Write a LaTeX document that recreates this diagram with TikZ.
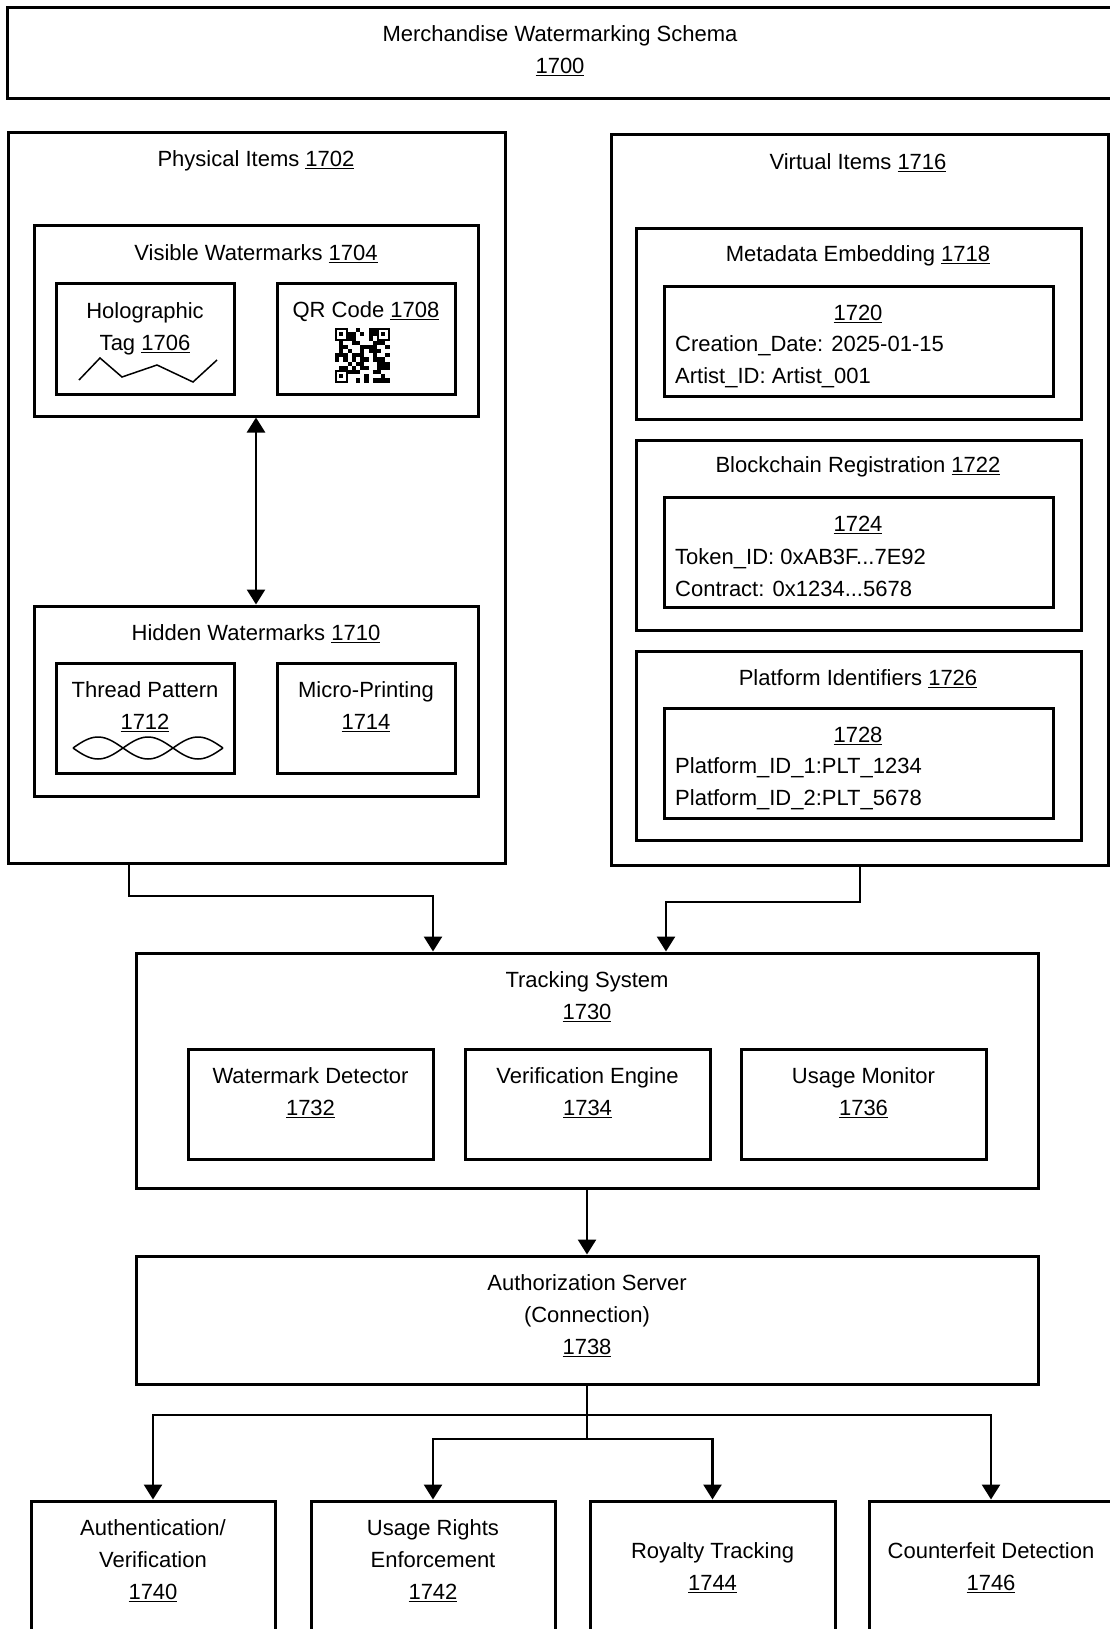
\documentclass[tikz,border=0pt]{standalone}
\usepackage{fontspec}
\setmainfont{Liberation Sans}
\usetikzlibrary{arrows.meta}
\newcommand{\refnum}[1]{\underline{#1}}

\begin{document}
\begin{tikzpicture}[x=1pt,y=-1pt,
  box/.style={draw, line width=3pt, inner sep=0pt},
  txt/.style={inner sep=0pt, align=center, yshift=-2pt, font=\fontsize{22}{32}\selectfont},
  arr/.style={line width=2.7pt, -{Triangle[length=15pt,width=18pt]}}]
%%%%%%%%%%%%%%%%%%%%%%%%%%%%%%%%%%%%%%%%%%% HELP LINES
%\draw[help lines] (0,0) grid[step=100] (1110,1629);
\useasboundingbox (0,0) rectangle (1110,1629);

%%%%%%%%%%%%%%%%%%%%%%%%%%%%%%%%%%%%%%%%%%% schema
\node[box, minimum width=1106pt, minimum height=91pt](schema) at (560,53.5){};
\node[txt](schematxt) at (560,49){Merchandise Watermarking Schema\\\refnum{1700}};

%%%%% physical items
\node[box, minimum width=497pt, minimum height=730pt](phys) at (256.5,498){};
\node[txt](phystxt) at (256,159){Physical Items \refnum{1702}};

\node[box, minimum width=444pt, minimum height=190pt](visible) at (256,321){};
\node[txt](visibletxt) at (256,252){Visible Watermarks \refnum{1704}};
\node[box, minimum width=178pt, minimum height=111pt](holo) at (145,338.5){};
\node[txt](holotxt) at (145,326.5){Holographic\\Tag \refnum{1706}};
\draw[line width=1.5pt] (79,380) -- (100,358) -- (122,377) -- (157,365) -- (193,382) -- (217,360);
\node[box, minimum width=178pt, minimum height=111pt](qr) at (366,338.5){};
\node[txt](qrtxt) at (366,310){QR Code \refnum{1708}};
\pgfmathsetseed{1708}
\foreach \i in {0,...,12}{
  \foreach \j in {0,...,12}{
    \pgfmathtruncatemacro\on{rnd<0.5?1:0}
    \ifnum\on=1 \fill (335+\i*4.2,328+\j*4.2) rectangle ++(4.2,4.2);\fi
  }
}
\foreach \fx/\fy in {335/328, 377/328, 335/370}{
  \fill (\fx,\fy) rectangle ++(12.6,12.6);
  \fill[white] (\fx+2.1,\fy+2.1) rectangle ++(8.4,8.4);
  \fill (\fx+4.2,\fy+4.2) rectangle ++(4.2,4.2);
}

\node[box, minimum width=444pt, minimum height=190pt](hidden) at (256,701){};
\node[txt](hiddentxt) at (256,632){Hidden Watermarks \refnum{1710}};
\node[box, minimum width=178pt, minimum height=110pt](thread) at (145,718){};
\node[txt](threadtxt) at (145,705){Thread Pattern\\\refnum{1712}};
\draw[line width=1.5pt] plot[domain=73:223, samples=61, smooth] (\x,{748-11*sin(3.6*(\x-73))});
\draw[line width=1.5pt] plot[domain=73:223, samples=61, smooth] (\x,{748+11*sin(3.6*(\x-73))});
\node[box, minimum width=178pt, minimum height=110pt](micro) at (366,718){};
\node[txt](microtxt) at (366,705){Micro-Printing\\\refnum{1714}};

\draw[line width=2.7pt, {Triangle[length=15pt,width=18pt]}-{Triangle[length=15pt,width=18pt]}] (visible.south) -- (hidden.north);

%%%%% virtual items
\node[box, minimum width=497pt, minimum height=730pt](virt) at (859.5,500){};
\node[txt](virttxt) at (858,161){Virtual Items \refnum{1716}};

\node[box, minimum width=445pt, minimum height=190pt](meta) at (858.5,324){};
\node[txt](metatxt) at (858,254){Metadata Embedding \refnum{1718}};
\node[box, minimum width=389pt, minimum height=110pt](metain) at (858.5,341){};
\node[txt](metanum) at (858,312){\refnum{1720}};
\node[txt, anchor=west, align=left](metadata) at (675,360){Creation\_Date: 2025-01-15\\Artist\_ID: Artist\_001};

\node[box, minimum width=445pt, minimum height=190pt](chain) at (858.5,535){};
\node[txt](chaintxt) at (858,465){Blockchain Registration \refnum{1722}};
\node[box, minimum width=389pt, minimum height=110pt](chainin) at (858.5,552){};
\node[txt](chainnum) at (858,523){\refnum{1724}};
\node[txt, anchor=west, align=left](chaindata) at (675,571){Token\_ID: 0xAB3F...7E92\\Contract: 0x1234...5678};

\node[box, minimum width=445pt, minimum height=189pt](plat) at (858.5,745.5){};
\node[txt](plattxt) at (858,677){Platform Identifiers \refnum{1726}};
\node[box, minimum width=389pt, minimum height=110pt](platin) at (858.5,763){};
\node[txt](platnum) at (858,734){\refnum{1728}};
\node[txt, anchor=west, align=left](platdata) at (675,782){Platform\_ID\_1:PLT\_1234\\Platform\_ID\_2:PLT\_5678};

%%%%% tracking system
\node[box, minimum width=902pt, minimum height=235pt](track) at (587,1070.5){};
\node[txt](tracktxt) at (587,995){Tracking System\\\refnum{1730}};
\node[box, minimum width=245pt, minimum height=110pt](detect) at (310.5,1104){};
\node[txt](detecttxt) at (310.5,1091){Watermark Detector\\\refnum{1732}};
\node[box, minimum width=245pt, minimum height=110pt](engine) at (587.5,1104){};
\node[txt](enginetxt) at (587.5,1091){Verification Engine\\\refnum{1734}};
\node[box, minimum width=245pt, minimum height=110pt](monitor) at (863.5,1104){};
\node[txt](monitortxt) at (863.5,1091){Usage Monitor\\\refnum{1736}};

\coordinate (pb1) at (129,896);
\coordinate (pb2) at (433,896);
\draw[arr] (phys.south -| pb1) -- (pb1) -- (pb2) -- (track.north -| pb2);
\coordinate (vb1) at (860,902);
\coordinate (vb2) at (666,902);
\draw[arr] (virt.south -| vb1) -- (vb1) -- (vb2) -- (track.north -| vb2);

%%%%% authorization server
\node[box, minimum width=902pt, minimum height=128pt](auth) at (587,1320){};
\node[txt](authtxt) at (587,1313.5){Authorization Server\\(Connection)\\\refnum{1738}};
\draw[arr] (track.south) -- (auth.north);

%%%%% outputs
\node[box, minimum width=244pt, minimum height=130pt](authv) at (153,1566){};
\node[txt](authvtxt) at (153,1559){Authentication/\\Verification\\\refnum{1740}};
\node[box, minimum width=244pt, minimum height=130pt](rights) at (433,1566){};
\node[txt](rightstxt) at (433,1559){Usage Rights\\Enforcement\\\refnum{1742}};
\node[box, minimum width=245pt, minimum height=130pt](royal) at (712.5,1566){};
\node[txt](royaltxt) at (712.5,1565.5){Royalty Tracking\\\refnum{1744}};
\node[box, minimum width=244pt, minimum height=130pt](cfd) at (991,1566){};
\node[txt](cfdtxt) at (991,1565.5){Counterfeit Detection\\\refnum{1746}};

\coordinate (fan1) at (587,1415);
\coordinate (fan2) at (587,1439);
\draw[arr] (auth.south) -- (fan1) -| (authv.north);
\draw[arr] (fan1) -| (cfd.north);
\draw[arr] (fan1) -- (fan2) -| (rights.north);
\draw[arr] (fan2) -| (royal.north);
\end{tikzpicture}
\end{document}
